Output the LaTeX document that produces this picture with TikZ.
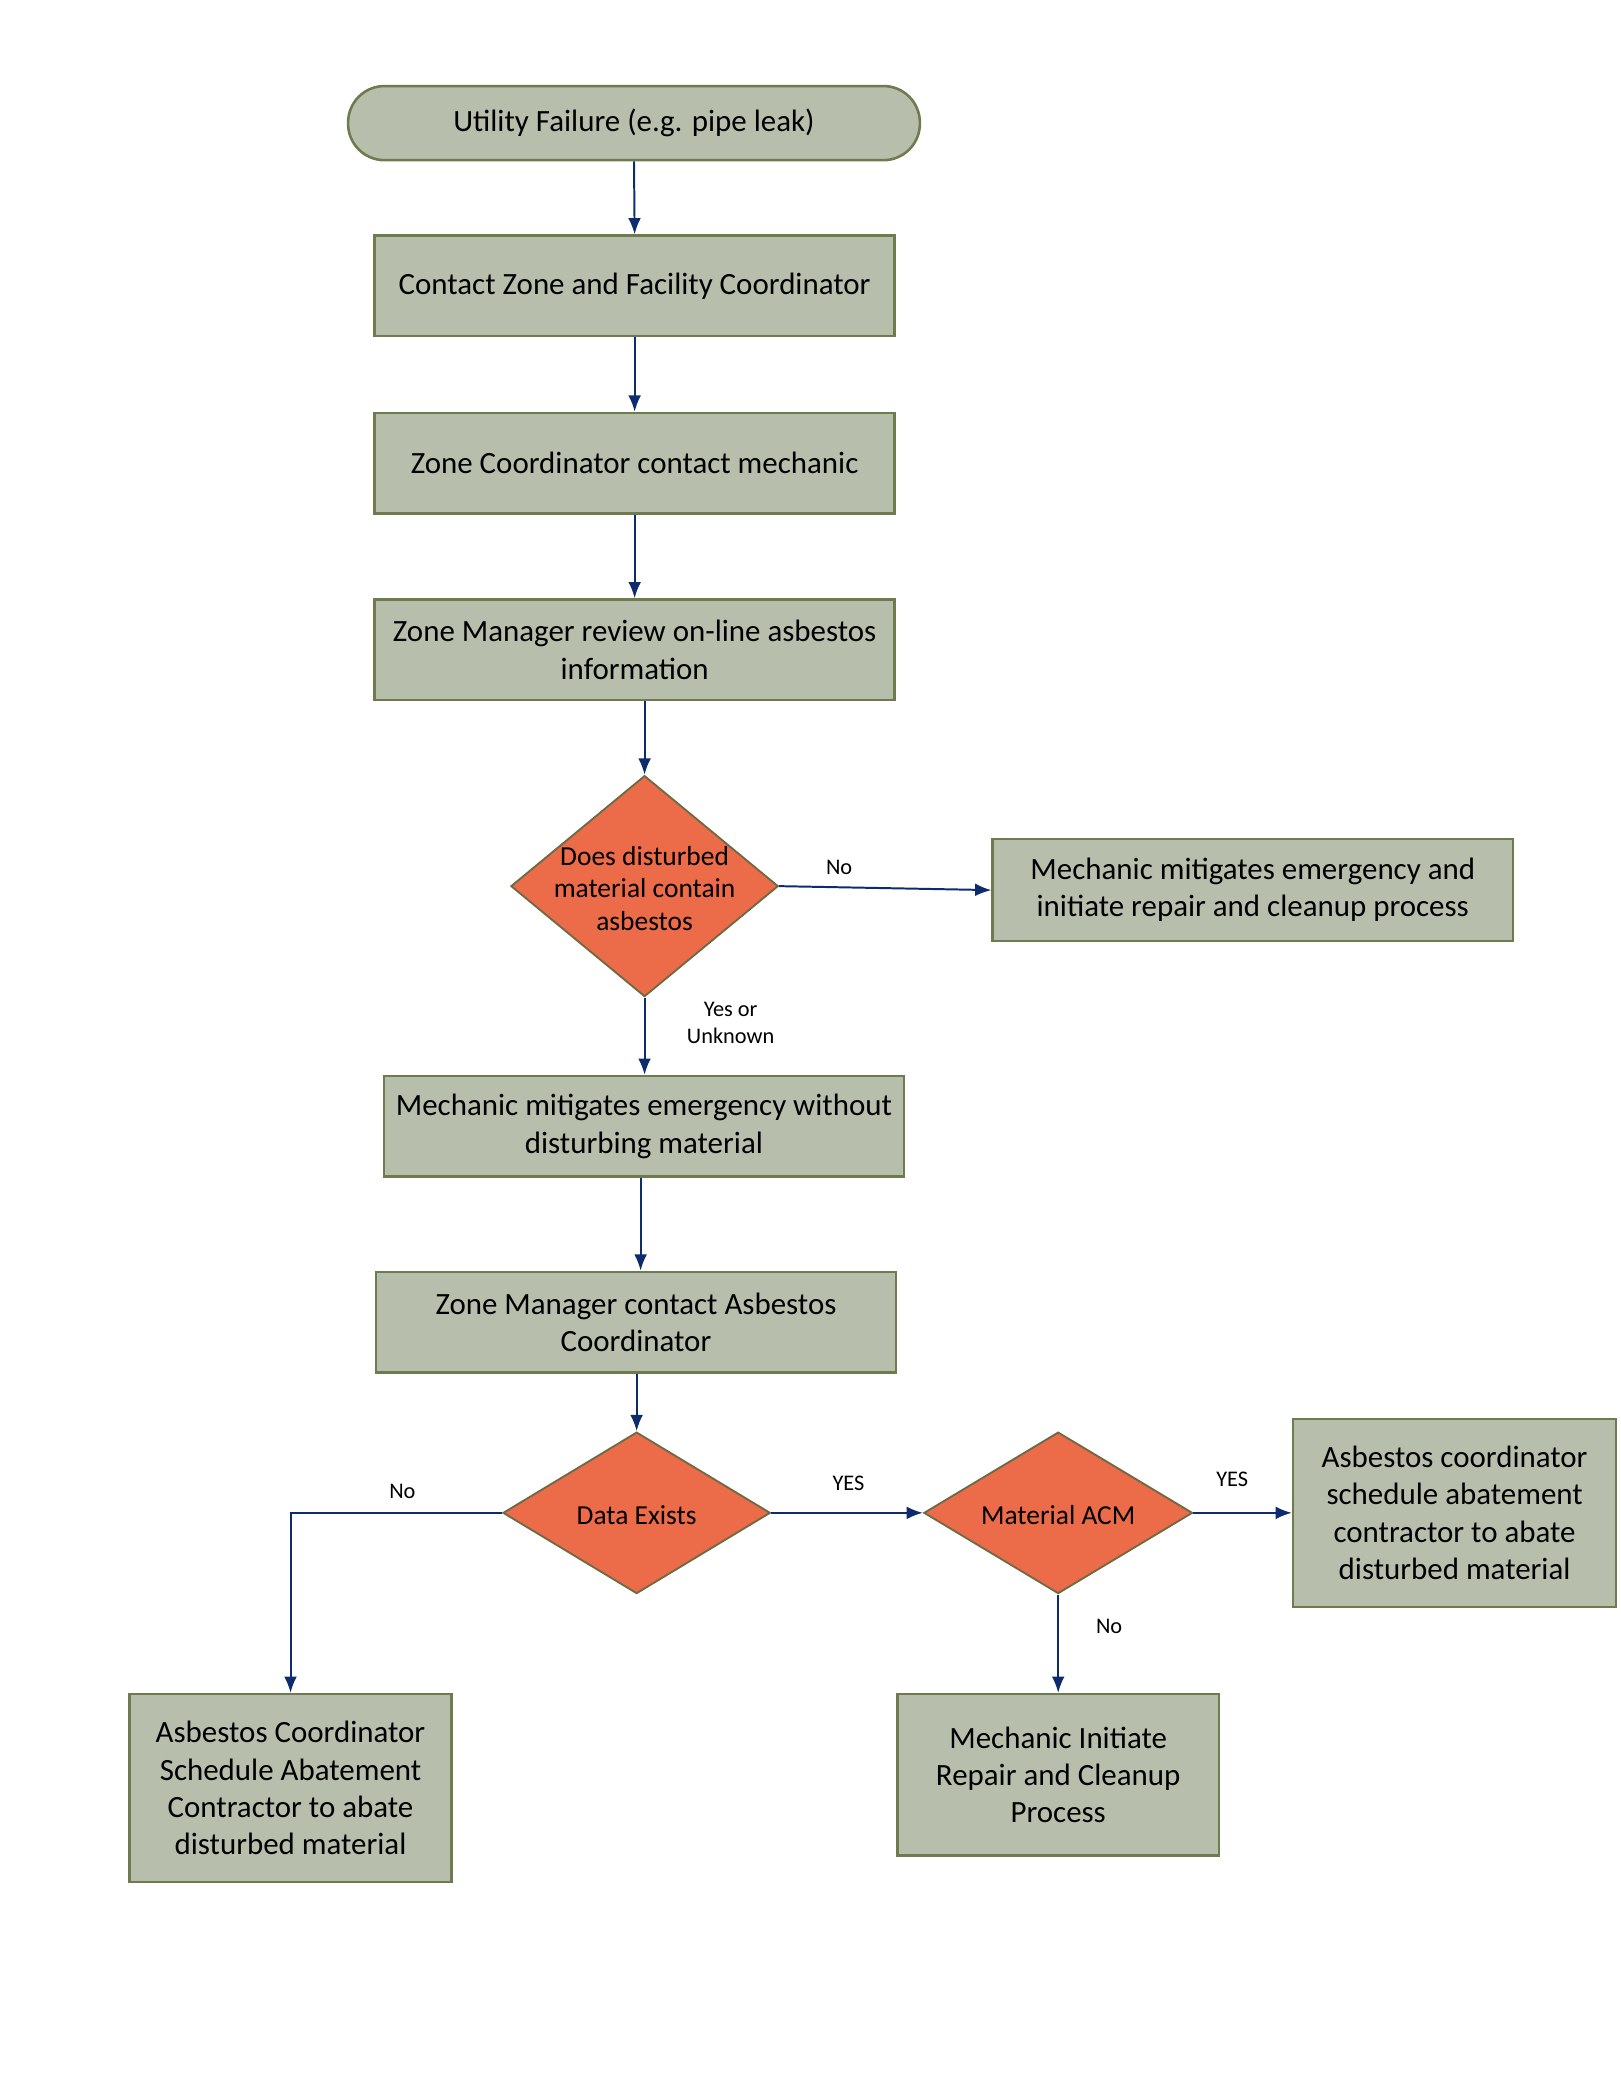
\documentclass[tikz,border=0pt]{standalone}
\usepackage{fontspec}
\setmainfont{Carlito}
\usetikzlibrary{shapes.geometric,arrows.meta}
\definecolor{boxfill}{HTML}{B8BEAC}
\definecolor{boxline}{HTML}{6E7B4E}
\definecolor{dfill}{HTML}{EC6B48}
\definecolor{dline}{HTML}{6E6A45}
\definecolor{arr}{HTML}{0D2C6E}
\tikzset{
  procbox/.style={draw=boxline, fill=boxfill, line width=1.1pt, align=center,
    font=\fontsize{13.3}{16}\selectfont, inner sep=0pt},
  termbox/.style={draw=boxline, fill=boxfill, line width=1.1pt, rounded corners=0.55cm,
    font=\fontsize{13.3}{16}\selectfont, inner sep=0pt},
  decbox/.style={diamond, draw=dline, fill=dfill, line width=0.8pt, inner sep=0pt},
  dectext/.style={align=center, font=\fontsize{11.8}{14}\selectfont, inner sep=0pt},
  lab/.style={font=\fontsize{9.6}{11.5}\selectfont, align=center, inner sep=0pt},
  conn/.style={draw=arr, line width=0.85pt, -{Latex[length=7pt,width=5.5pt]}},
}
\begin{document}
\begin{tikzpicture}[x=0.02cm, y=-0.02cm]
\useasboundingbox (0,0) rectangle (1224,1570);
% nodes
\node[termbox, minimum width=432*0.02cm, minimum height=56*0.02cm] (term) at (479,93) {Utility Failure (e.g. pipe leak)};
\node[procbox, minimum width=393*0.02cm, minimum height=76*0.02cm] (b1) at (479.5,216) {Contact Zone and Facility Coordinator};
\node[procbox, minimum width=393*0.02cm, minimum height=76*0.02cm] (b2) at (479.5,350) {Zone Coordinator contact mechanic};
\node[procbox, minimum width=393*0.02cm, minimum height=76*0.02cm] (b3) at (479.5,491) {Zone Manager review on-line asbestos\\information};
\node[decbox, minimum width=202*0.02cm, minimum height=167*0.02cm] (d1) at (487,669.5) {};
\node[dectext] (d1t) at (487,671) {Does disturbed\\material contain\\asbestos};
\node[procbox, minimum width=393*0.02cm, minimum height=77*0.02cm] (mbox) at (946.5,672.5) {Mechanic mitigates emergency and\\initiate repair and cleanup process};
\node[procbox, minimum width=393*0.02cm, minimum height=76*0.02cm] (b4) at (486.5,851) {Mechanic mitigates emergency without\\disturbing material};
\node[procbox, minimum width=393*0.02cm, minimum height=76*0.02cm] (b5) at (480.5,999) {Zone Manager contact Asbestos\\Coordinator};
\node[decbox, minimum width=202*0.02cm, minimum height=122*0.02cm] (d2) at (481,1143) {};
\node[dectext] (d2t) at (481,1145) {Data Exists};
\node[decbox, minimum width=203*0.02cm, minimum height=122*0.02cm] (d3) at (799.5,1143) {};
\node[dectext] (d3t) at (799.5,1145) {Material ACM};
\node[procbox, minimum width=244*0.02cm, minimum height=142*0.02cm] (b6) at (1099,1143) {Asbestos coordinator\\schedule abatement\\contractor to abate\\disturbed material};
\node[procbox, minimum width=243*0.02cm, minimum height=142*0.02cm] (b7) at (219.5,1351) {Asbestos Coordinator\\Schedule Abatement\\Contractor to abate\\disturbed material};
\node[procbox, minimum width=243*0.02cm, minimum height=122*0.02cm] (b8) at (799.5,1341) {Mechanic Initiate\\Repair and Cleanup\\Process};
% labels
\node[lab] (l1) at (634,655) {No};
\node[lab] (l2) at (552,773) {Yes or\\Unknown};
\node[lab] (l3) at (304,1127) {No};
\node[lab] (l4) at (641,1121) {YES};
\node[lab] (l5) at (931,1118) {YES};
\node[lab] (l6) at (838,1229) {No};
% connectors
\draw[conn] (term.south) -- (b1.north);
\draw[conn] (b1.south) -- (b2.north);
\draw[conn] (b2.south) -- (b3.north);
\draw[conn] (d1.north |- b3.south) -- (d1.north);
\draw[conn] (d1.east) -- (mbox.west);
\draw[conn] (d1.south) -- (d1.south |- b4.north);
\draw[conn] ([xshift=-2.5*0.02cm]b4.south) -- ([xshift=-2.5*0.02cm]b4.south |- b5.north);
\draw[conn] (d2.north |- b5.south) -- (d2.north);
\draw[conn] (d2.east) -- (d3.west);
\draw[conn] (d3.east) -- (b6.west);
\draw[conn] (d3.south) -- (b8.north);
\draw[conn] (d2.west) -| (b7.north);
\end{tikzpicture}
\end{document}
